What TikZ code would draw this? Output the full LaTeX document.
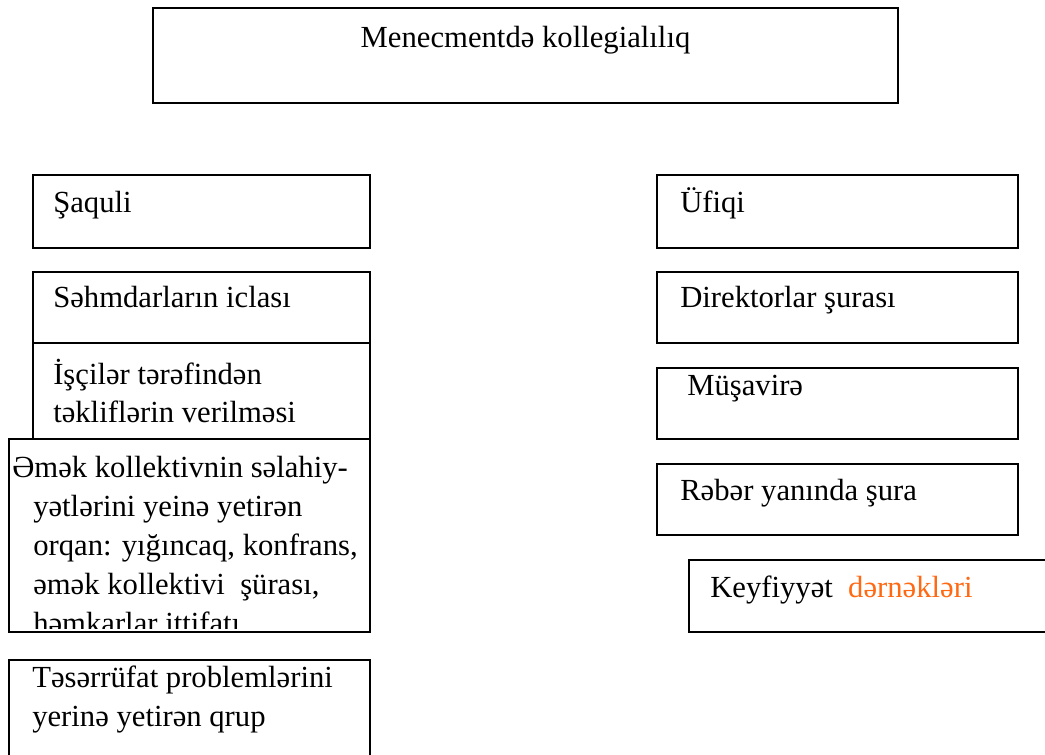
\documentclass[tikz,border=0pt]{standalone}
\usepackage{fontspec}
\setmainfont{Liberation Serif}
\definecolor{dernek}{RGB}{255,105,20}

\begin{document}
\begin{tikzpicture}[x=0.75pt,y=-0.75pt,
  box/.style={black, line width=1.4pt},
  lbl/.style={font=\fontsize{23}{29}\selectfont, anchor=base west, inner sep=0pt}]
\useasboundingbox (0,0) rectangle (1045,755);
% title
\draw [box] (153,8) rectangle (898,103);
\node [lbl,anchor=base] (title) at (525.5,48) {Menecmentdə kollegialılıq};
% left column
\draw [box] (33,175) rectangle (370,248);
\node [lbl] (saquli) at (53,213) {Şaquli};
\draw [box] (33,272) rectangle (370,343);
\node [lbl] (sehm) at (53,308) {Səhmdarların iclası};
\draw [box] (33,343) rectangle (370,439);
\node [lbl] (isci1) at (53,384) {İşçilər tərəfindən};
\node [lbl] (isci2) at (53,422) {təkliflərin verilməsi};
\draw [box, fill=white] (9,439) rectangle (370,632);
\begin{scope}
\clip (11,441) rectangle (368,628);
\node [lbl] (emek1) at (12,477) {Əmək kollektivnin səlahiy-};
\node [lbl] (emek2) at (33,516) {yətlərini yeinə yetirən};
\node [lbl] (emek3) at (33,555) {orqan: yığıncaq, konfrans,};
\node [lbl] (emek4) at (33,594) {əmək kollektivi\ \ şürası,};
\node [lbl] (emek5) at (33,633) {həmkarlar ittifatı};
\end{scope}
\draw [box] (9,660) rectangle (370,780);
\node [lbl] (teser1) at (32,687) {Təsərrüfat problemlərini};
\node [lbl] (teser2) at (32,726) {yerinə yetirən qrup};
% right column
\draw [box] (657,175) rectangle (1018,248);
\node [lbl] (ufiqi) at (680,213) {Üfiqi};
\draw [box] (657,272) rectangle (1018,343);
\node [lbl] (direk) at (680,308) {Direktorlar şurası};
\draw [box] (657,368) rectangle (1018,439);
\node [lbl] (musav) at (687,395) {Müşavirə};
\draw [box] (657,464) rectangle (1018,535);
\node [lbl] (reber) at (680,500) {Rəbər yanında şura};
\draw [box] (689,560) rectangle (1070,632);
\node [lbl] (keyf) at (710,597) {Keyfiyyət\ \ \textcolor{dernek}{dərnəkləri}};
\end{tikzpicture}
\end{document}
